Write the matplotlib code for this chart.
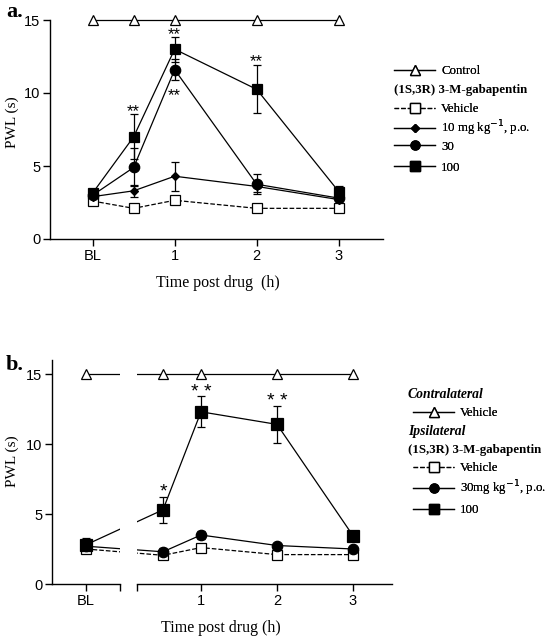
import numpy as np
import matplotlib
matplotlib.use("Agg")
import matplotlib.pyplot as plt
from matplotlib.lines import Line2D

# ============================================================
# DATA
# ============================================================

# panel a: time points (BL placed at 0 h)
times_a = [0, 0.5, 1, 2, 3]
control_a = [15, 15, 15, 15, 15]
veh_a = [2.6, 2.1, 2.65, 2.1, 2.1]
veh_a_err = [0.1, 0.1, 0.1, 0.1, 0.1]
d10_a = [2.9, 3.3, 4.3, 3.6, 2.7]
d10_a_err = [0.2, 0.4, 1.0, 0.4, 0.2]
d30_a = [3.0, 4.9, 11.6, 3.75, 2.8]
d30_a_err = [0.2, 1.3, 0.7, 0.7, 0.2]
d100_a = [3.15, 7.0, 13.0, 10.25, 3.25]
d100_a_err = [0.2, 1.55, 0.85, 1.65, 0.4]

# significance marks (x, y, text)
stars_a_x = [0.5, 1, 1, 2]
stars_a_y = [8.95, 14.25, 10.05, 12.4]
stars_a_txt = ["**", "**", "**", "**"]

# panel b: BL sits before the axis break
times_b = [-0.5, 0.5, 1, 2, 3]
control_b = [15, 15, 15, 15, 15]
veh_b = [2.5, 2.05, 2.6, 2.1, 2.1]
veh_b_err = [0.1, 0.1, 0.1, 0.1, 0.1]
d30_b = [2.7, 2.3, 3.5, 2.75, 2.5]
d30_b_err = [0.2, 0.3, 0.3, 0.1, 0.1]
d100_b = [2.8, 5.3, 12.3, 11.4, 3.45]
d100_b_err = [0.5, 0.95, 1.1, 1.3, 0.1]

stars_b_x = [0.5, 1, 2]
stars_b_y = [6.9, 14.0, 13.35]
stars_b_txt = ["*", "* *", "* *"]

xtick_labels = ["BL", "1", "2", "3"]

# ============================================================
# STYLE
# ============================================================

W, H = 549, 640
SERIF = "Liberation Serif"
SANS = "Liberation Sans"
LW = 0.9
TICK_FS = 10.5
LEG_FS = 9.3
plt.rcParams["font.family"] = SANS
plt.rcParams["axes.linewidth"] = 1.0


def px_rect(left, top, right, bottom):
    return [left / W, 1 - bottom / H, (right - left) / W, (bottom - top) / H]


def fx(px):
    return px / W


def fy(py):
    return 1 - py / H


def style_axis(ax):
    for s in ["top", "right"]:
        ax.spines[s].set_visible(False)
    ax.tick_params(direction="out", length=5, width=1.0, labelsize=TICK_FS, pad=2)


def draw_series(ax, x, y, err, marker, ms, mfc, ls="-"):
    ax.errorbar(x, y, yerr=err, color="black", lw=LW, ls=ls, marker=marker,
                ms=ms, mfc=mfc, mec="black", mew=0.9, capsize=3.2,
                elinewidth=LW, capthick=LW, zorder=3)


def draw_control(ax, x, y, clip):
    ax.plot(x, y, color="black", lw=LW, marker="^", ms=7.5, mfc="white",
            mec="black", mew=0.9, clip_on=clip, zorder=4)


def draw_stars(ax, xs, ys, txts, fs, drop):
    # asterisks sit high in the glyph box, so nudge them down a little
    for sx, sy, st in zip(xs, ys, txts):
        ax.annotate(st, (sx, sy), xytext=(0, -drop), textcoords="offset points",
                    ha="center", va="center", fontsize=fs, family=SANS)


def legend_row(handle, label, x, y):
    # one legend entry, centred vertically on row y (pixels)
    lg = fig.legend([handle], [label], loc="center left",
                    bbox_to_anchor=(fx(x), fy(y)), frameon=False,
                    handlelength=3.2, handletextpad=0.45, borderaxespad=0,
                    borderpad=0, prop={"family": SERIF, "size": LEG_FS})
    fig.add_artist(lg)


fig = plt.figure(figsize=(W / 100, H / 100), dpi=100)

# ============================================================
# PANEL A
# ============================================================

ax = fig.add_axes(px_rect(50, 20, 383, 239))
style_axis(ax)
draw_control(ax, times_a, control_a, False)
draw_series(ax, times_a, veh_a, veh_a_err, "s", 7.5, "white", ls="--")
draw_series(ax, times_a, d10_a, d10_a_err, "D", 4.5, "black")
draw_series(ax, times_a, d30_a, d30_a_err, "o", 7.5, "black")
draw_series(ax, times_a, d100_a, d100_a_err, "s", 7.8, "black")
draw_stars(ax, stars_a_x, stars_a_y, stars_a_txt, 12, 2.5)

ax.set_xlim(-0.52, 3.54)
ax.set_ylim(0, 15)
ax.set_yticks([0, 5, 10, 15])
ax.set_xticks([0, 1, 2, 3])
ax.set_xticklabels(xtick_labels)
fig.text(fx(12), fy(122), "PWL (s)", family=SERIF, fontsize=11,
         rotation=90, ha="center", va="center")
fig.text(fx(218), fy(283), "Time post drug  (h)", family=SERIF,
         fontsize=11.5, ha="center", va="center")
fig.text(fx(6), fy(12), "a.", family=SERIF, fontsize=16,
         fontweight="bold", va="center", ha="left")

# legend a
h_ctrl = Line2D([], [], color="black", lw=LW, marker="^", ms=6.5, mfc="white", mec="black")
h_veh = Line2D([], [], color="black", lw=LW, ls="--", marker="s", ms=6.5, mfc="white", mec="black")
h_10 = Line2D([], [], color="black", lw=LW, marker="D", ms=4, mfc="black")
h_30 = Line2D([], [], color="black", lw=LW, marker="o", ms=6.5, mfc="black")
h_100 = Line2D([], [], color="black", lw=LW, marker="s", ms=6.5, mfc="black")

legend_row(h_ctrl, "Control", 394, 71)
fig.text(fx(394), fy(90), "(1S,3R) 3-M-gabapentin", family=SERIF,
         fontsize=LEG_FS, fontweight="bold", va="center")
legend_row(h_veh, "Vehicle", 394, 109)
legend_row(h_10, "10 mg kg$^{-1}$, p.o.", 394, 128)
legend_row(h_30, "30", 394, 147)
legend_row(h_100, "100", 394, 168)

# ============================================================
# PANEL B (broken x axis)
# ============================================================

axl = fig.add_axes(px_rect(52, 360, 120, 584))
axr = fig.add_axes(px_rect(137, 360, 392, 584))
for a in (axl, axr):
    style_axis(a)
    draw_control(a, times_b, control_b, True)
    draw_series(a, times_b, veh_b, veh_b_err, "s", 7.5, "white", ls="--")
    draw_series(a, times_b, d30_b, d30_b_err, "o", 7.5, "black")
    draw_series(a, times_b, d100_b, d100_b_err, "s", 8, "black")
    a.set_ylim(0, 16)

axl.set_xlim(-0.947, -0.053)
axr.set_xlim(0.158, 3.513)
axl.set_yticks([0, 5, 10, 15])
axl.set_xticks([-0.5, -0.053])
axl.set_xticklabels([xtick_labels[0], ""])
axr.spines["left"].set_visible(False)
axr.tick_params(axis="y", left=False, labelleft=False)
axr.set_xticks([0.158, 1, 2, 3])
axr.set_xticklabels([""] + xtick_labels[1:])
draw_stars(axr, stars_b_x, stars_b_y, stars_b_txt, 14, 3)

fig.text(fx(12), fy(461), "PWL (s)", family=SERIF, fontsize=11,
         rotation=90, ha="center", va="center")
fig.text(fx(221), fy(628), "Time post drug (h)", family=SERIF,
         fontsize=11.5, ha="center", va="center")
fig.text(fx(6), fy(365), "b.", family=SERIF, fontsize=16,
         fontweight="bold", va="center", ha="left")

# legend b
fig.text(fx(408), fy(395), "Contralateral", family=SERIF, fontsize=9.8,
         fontweight="bold", style="italic", va="center")
legend_row(h_ctrl, "Vehicle", 413, 413)
fig.text(fx(408), fy(432), "Ipsilateral", family=SERIF, fontsize=9.8,
         fontweight="bold", style="italic", va="center")
fig.text(fx(408), fy(450), "(1S,3R) 3-M-gabapentin", family=SERIF,
         fontsize=LEG_FS, fontweight="bold", va="center")
legend_row(h_veh, "Vehicle", 413, 468)
legend_row(h_30, "30mg kg$^{-1}$, p.o.", 413, 488)
legend_row(h_100, "100", 413, 510)

fig.savefig("out.png", dpi=100)
